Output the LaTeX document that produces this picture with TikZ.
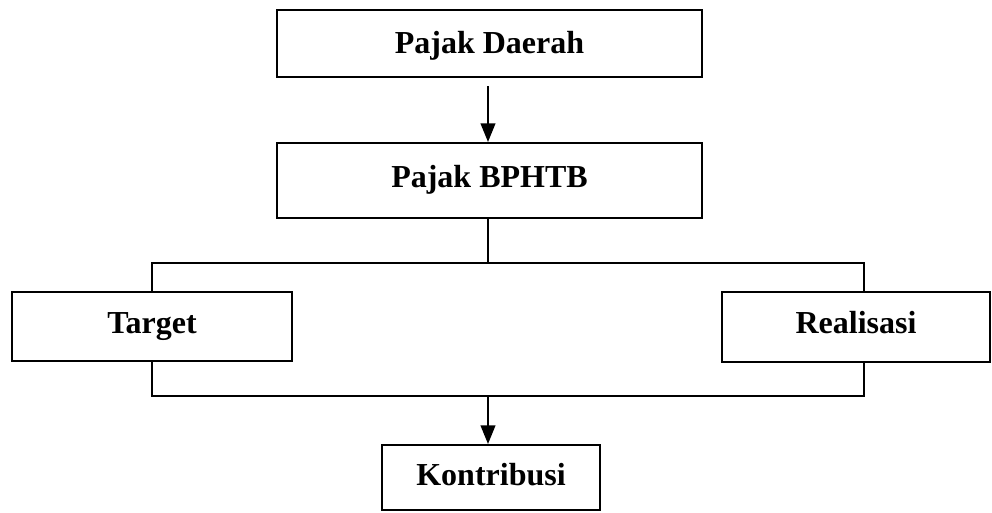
\documentclass[tikz,border=0pt]{standalone}
\usepackage{fontspec}
\setmainfont{Liberation Serif}
\usetikzlibrary{arrows.meta}
\begin{document}
\begin{tikzpicture}[x=0.75pt,y=-0.75pt,
  boxnode/.style={draw,line width=1.5pt,rectangle,inner sep=0pt,
    text height=17pt,text depth=7.25pt,
    font=\fontsize{24}{28}\selectfont\bfseries},
  conn/.style={line width=1.5pt},
  arr/.style={line width=1.5pt,-{Triangle[length=14pt,width=11pt]}}]
\useasboundingbox (0,0) rectangle (992,512);
\node[boxnode,text depth=2.75pt,minimum width=425*0.75pt,minimum height=67*0.75pt] (pd) at (489.5,43.5) {Pajak Daerah};
\node[boxnode,minimum width=425*0.75pt,minimum height=75*0.75pt] (pb) at (489.5,180.5) {Pajak BPHTB};
\node[boxnode,minimum width=280*0.75pt,minimum height=69*0.75pt] (tg) at (152,326.5) {Target};
\node[boxnode,minimum width=268*0.75pt,minimum height=70*0.75pt] (rl) at (856,327) {Realisasi};
\node[boxnode,text depth=5pt,minimum width=218*0.75pt,minimum height=65*0.75pt] (kb) at (491,477.5) {Kontribusi};
\coordinate (a0) at (488,86);
\coordinate (j1) at (488,263);
\coordinate (l1) at (152,263);
\coordinate (r1) at (864,263);
\coordinate (l2) at (152,396);
\coordinate (r2) at (864,396);
\coordinate (j2) at (488,396);
\draw[arr] (a0) -- (a0 |- pb.north);
\draw[conn] (j1 |- pb.south) -- (j1);
\draw[conn] (tg.north) -- (l1) -- (r1) -- (r1 |- rl.north);
\draw[conn] (tg.south) -- (l2) -- (r2) -- (r2 |- rl.south);
\draw[arr] (j2) -- (j2 |- kb.north);
\end{tikzpicture}
\end{document}
